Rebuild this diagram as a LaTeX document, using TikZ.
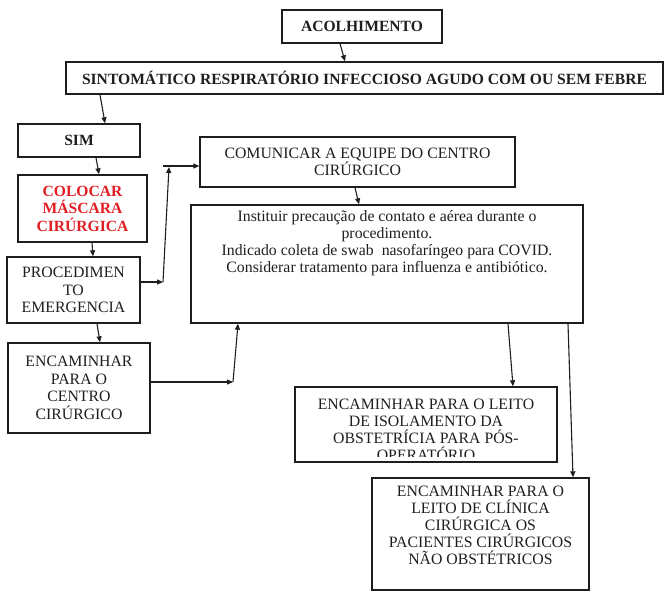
\documentclass[tikz,border=0pt]{standalone}
\usepackage{fontspec}
\setmainfont{Liberation Serif}
\usetikzlibrary{arrows.meta}
\definecolor{ink}{RGB}{30,30,30}
\definecolor{redtxt}{RGB}{225,30,35}
\begin{document}
\begin{tikzpicture}[x=1pt,y=-1pt,
  box/.style={draw=ink,line width=1.4pt,inner sep=0pt,align=center,text=ink,
    font=\fontsize{15.8}{17.5}\selectfont},
  boldbox/.style={box,font=\fontsize{15.6}{17.5}\selectfont\bfseries},
  txt/.style={inner sep=0pt,align=center,text=ink,font=\fontsize{15.8}{17}\selectfont},
  arr/.style={draw=ink,line width=1.1pt,-{Triangle[length=6pt,width=5pt]}}]
\useasboundingbox (0,0) rectangle (665,592);

% boxes
\node[boldbox,minimum width=160pt,minimum height=33pt] (acol) at (362,26.5) {ACOLHIMENTO};
\node[boldbox,minimum width=597pt,minimum height=32pt] (sint) at (364.5,78) {SINTOMÁTICO RESPIRATÓRIO INFECCIOSO AGUDO COM OU SEM FEBRE};
\node[boldbox,minimum width=122pt,minimum height=33pt] (sim) at (79,140.5) {SIM};
\node[boldbox,text=redtxt,minimum width=129pt,minimum height=67pt] (col) at (82.5,208.5) {COLOCAR\\MÁSCARA\\CIRÚRGICA};
\node[box,minimum width=133pt,minimum height=66pt] (proc) at (73.5,290) {PROCEDIMEN\\TO\\EMERGENCIA};
\node[box,minimum width=142pt,minimum height=90pt] (enc) at (79,388) {ENCAMINHAR\\PARA O\\CENTRO\\CIRÚRGICO};
\node[box,minimum width=315pt,minimum height=50pt] (com) at (357.5,162) {COMUNICAR A EQUIPE DO CENTRO\\CIRÚRGICO};
\node[box,minimum width=392pt,minimum height=118pt] (inst) at (387,264) {};
\node[txt,anchor=north] (instt) at ([yshift=-6pt]inst.north) {Instituir precaução de contato e aérea durante o\\procedimento.\\Indicado coleta de swab\ \ nasofaríngeo para COVID.\\Considerar tratamento para influenza e antibiótico.};
\node[box,minimum width=262pt,minimum height=75pt] (iso) at (426,424.5) {};
\begin{scope}
  \clip ([yshift=0pt]iso.north west) rectangle ([yshift=6.5pt]iso.south east);
  \node[txt,anchor=north] (isot) at ([yshift=-13pt]iso.north) {ENCAMINHAR PARA O LEITO\\DE ISOLAMENTO DA\\OBSTETRÍCIA PARA PÓS-\\OPERATÓRIO};
\end{scope}
\node[box,minimum width=217pt,minimum height=112pt] (cli) at (480.5,534) {};
\node[txt,anchor=north] (clit) at ([yshift=-9pt]cli.north) {ENCAMINHAR PARA O\\LEITO DE CLÍNICA\\CIRÚRGICA OS\\PACIENTES CIRÚRGICOS\\NÃO OBSTÉTRICOS};

% helper points
\coordinate (c1) at (163,282);
\coordinate (c2) at (169,167);
\coordinate (c3) at (163,166);
\coordinate (c4) at (233,382);

% connectors
\draw[arr] ([xshift=-22pt]acol.south) -- ([xshift=-19.5pt]sint.north);
\draw[arr] ([xshift=-264.5pt]sint.south) -- ([xshift=26pt]sim.north);
\draw[arr] ([xshift=17pt]sim.south) -- ([xshift=16.5pt]col.north);
\draw[arr] ([xshift=9.5pt]col.south) -- ([xshift=19.5pt]proc.north);
\draw[arr] ([xshift=23.5pt]proc.south) -- ([xshift=21pt]enc.north);
\draw[arr] ([yshift=8pt]proc.east) -- (c1);
\draw[arr] (c1) -- (c2);
\draw[arr] (c3) -- ([yshift=-4pt]com.west);
\draw[arr] ([yshift=6pt]enc.east) -- (c4);
\draw[arr] (c4) -- ([xshift=-149pt]inst.south);
\draw[arr] ([xshift=-2.5pt]com.south) -- ([xshift=-28pt]inst.north);
\draw[arr] ([xshift=121pt]inst.south) -- ([xshift=87pt]iso.north);
\draw[arr] ([xshift=181pt]inst.south) -- ([xshift=92.5pt]cli.north);
\end{tikzpicture}
\end{document}
